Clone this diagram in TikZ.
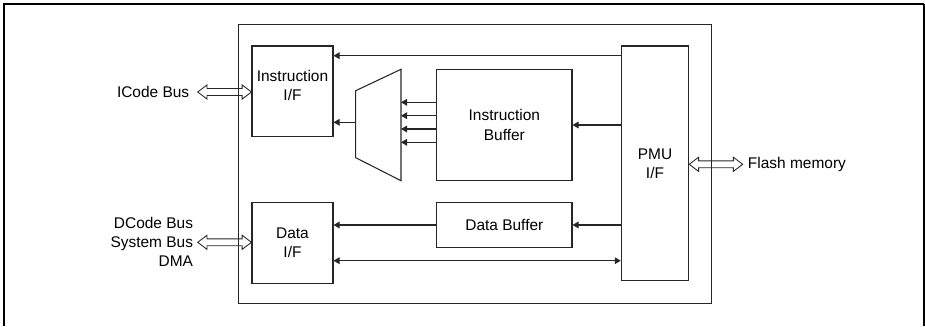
\documentclass[tikz,border=0pt]{standalone}
\usepackage{fontspec}
\setmainfont{Liberation Sans}
\usetikzlibrary{arrows.meta,calc}
\newcommand\hollowarrow[2]{%
  \draw[hollow] let \p1=(#1), \p2=(#2) in
    (\x1,\y1) -- (\x1+7pt,\y1+5.3pt) -- (\x1+7pt,\y1+2.6pt)
    -- (\x2-7pt,\y2+2.6pt) -- (\x2-7pt,\y2+5.3pt) -- (\x2,\y2)
    -- (\x2-7pt,\y2-5.3pt) -- (\x2-7pt,\y2-2.6pt)
    -- (\x1+7pt,\y1-2.6pt) -- (\x1+7pt,\y1-5.3pt) -- cycle;}
\begin{document}
\begin{tikzpicture}[x=0.75pt,y=-0.75pt,
  txt/.style={font=\fontsize{11.6}{14.4}\selectfont},
  box/.style={draw=black!85,line width=0.8pt,inner sep=0pt,align=center,txt},
  lbl/.style={inner sep=0pt,txt},
  arr/.style={draw=black!85,line width=0.8pt,-{Triangle[length=4.5pt,width=5pt]}},
  darr/.style={draw=black!85,line width=0.8pt,{Triangle[length=4.5pt,width=5pt]}-{Triangle[length=4.5pt,width=5pt]}},
  hollow/.style={draw=black!85,line width=0.65pt},
  frame/.style={draw=black,line width=1.6pt}]
\useasboundingbox (0,0) rectangle (925,326);
% outer frame (open at bottom)
\draw[frame] (3.8,326) -- (3.8,4) -- (924.2,4);
\draw[draw=black,line width=1.1pt] (924.2,4) -- (924.2,326);

% hollow bus arrow tips
\coordinate (icodetip) at (197.7,92);
\coordinate (dtip) at (197.7,242.3);
\coordinate (flashtip) at (742.7,164.3);

% main box
\node[box,minimum width=355pt,minimum height=209.25pt] (main) at (475,163.8) {};

% blocks
\node[box,minimum width=60.75pt,minimum height=68pt] (iif) at (292.5,91.35) {};
\node[lbl,align=center] (iiftext) at (292.5,85.5) {Instruction\\I/F};
\node[box,minimum width=60.75pt,minimum height=60.45pt] (dif) at (292.5,243) {Data\\I/F};
\node[box,minimum width=101.5pt,minimum height=83.55pt] (ib) at (504.35,125) {Instruction\\Buffer};
\node[box,minimum width=101.5pt,minimum height=33.45pt] (db) at (504.35,225) {Data Buffer};
\node[box,minimum width=50.55pt,minimum height=176pt] (pmu) at (655,163.35) {PMU\\I/F};

% mux
\draw[draw=black!85,line width=0.8pt] (355.7,90.7) -- (401,69.3) -- (401,180.7) -- (355.7,157.7) -- cycle;
\coordinate (muxl) at (355.7,122.3);
\coordinate (muxr) at (401,125);

% labels
\node[lbl,anchor=east] (icode) at (189.5,92) {ICode Bus};
\node[lbl,anchor=east,align=right] (dbus) at (193.3,242) {DCode Bus\\System Bus\\DMA};
\node[lbl,anchor=west] (flash) at (747.7,164.3) {Flash memory};

% hollow arrows
\hollowarrow{icodetip}{iif.west |- icodetip}
\hollowarrow{dtip}{dif.west |- dtip}
\hollowarrow{pmu.east |- flashtip}{flashtip}

% connectors
\draw[arr] (pmu.west |- 0,55.7) -- (iif.east |- 0,55.7);
\draw[arr] (pmu.west |- ib.east) -- (ib.east);
\draw[arr] (pmu.west |- db.east) -- (db.east);
\draw[arr] (db.west) -- (dif.east |- db.west);
\draw[darr] (dif.east |- 0,260.7) -- (pmu.west |- 0,260.7);
\draw[arr] (muxl) -- (iif.east |- muxl);
\foreach \yy in {102.3,115.7,129,142.3}
  \draw[arr] (ib.west |- 0,\yy) -- (muxr |- 0,\yy);
\end{tikzpicture}
\end{document}
